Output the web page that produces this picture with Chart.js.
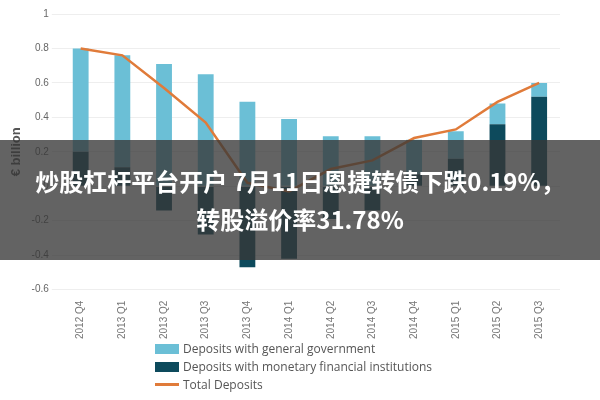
<!DOCTYPE html>
<html>
<head>
<meta charset="utf-8">
<script src="https://cdn.jsdelivr.net/npm/chart.js@4/dist/chart.umd.min.js"></script>
<style>
  body { margin: 0; background: #fff; font-family: "Open Sans", sans-serif; }
  #wrap { position: relative; width: 600px; height: 400px; }
  #box { position: absolute; left: 0; top: 0; width: 600px; height: 342px; }
  #legend { position: absolute; left: 155px; top: 340px; font-size: 12px; color: #555; line-height: 18px; }
  .sw { display: inline-block; width: 24px; height: 10px; margin-right: 4px; vertical-align: -1px; }
  .ln { display: inline-block; width: 24px; height: 3px; margin-right: 4px; vertical-align: 3px; background: #e07b3a; }
  #banner { position: absolute; left: 0; top: 140px; width: 600px; height: 120px; background: rgba(55,55,55,0.78);
    color: #fff; font-family: "Noto Sans CJK SC", sans-serif; font-weight: bold; font-size: 24px;
    text-align: center; line-height: 38px; padding-top: 22px; box-sizing: border-box; }
</style>
</head>
<body>
<div id="wrap">
  <div id="box"><canvas id="chart"></canvas></div>
  <div id="legend">
    <div><span class="sw" style="background:#6bbfd6"></span>Deposits with general government</div>
    <div><span class="sw" style="background:#0d4a5c"></span>Deposits with monetary financial institutions</div>
    <div><span class="ln"></span>Total Deposits</div>
  </div>
  <div id="banner">炒股杠杆平台开户 7月11日恩捷转债下跌0.19%，<br>转股溢价率31.78%</div>
</div>
<script>
const quarters = ['2012 Q4','2013 Q1','2013 Q2','2013 Q3','2013 Q4','2014 Q1','2014 Q2','2014 Q3','2014 Q4','2015 Q1','2015 Q2','2015 Q3'];
const govDeposits = [0.6, 0.65, 0.71, 0.65, 0.49, 0.39, 0.29, 0.29, 0.2, 0.16, 0.12, 0.08];
const mfiDeposits = [0.2, 0.11, -0.14, -0.28, -0.47, -0.42, -0.19, -0.14, 0.07, 0.16, 0.36, 0.52];
const totalDeposits = [0.8, 0.76, 0.57, 0.37, 0.02, -0.03, 0.1, 0.15, 0.28, 0.33, 0.49, 0.6];

new Chart(document.getElementById('chart'), {
    type: 'bar',
    data: {
        labels: quarters,
        datasets: [
            { type: 'line', label: 'Total Deposits', data: totalDeposits, borderColor: '#e07b3a', borderWidth: 2.5,
              pointRadius: 0, tension: 0, order: 0 },
            { label: 'Deposits with monetary financial institutions', data: mfiDeposits, backgroundColor: '#0d4a5c',
              stack: 's', order: 1, barPercentage: 0.38, categoryPercentage: 1 },
            { label: 'Deposits with general government', data: govDeposits, backgroundColor: '#6bbfd6',
              stack: 's', order: 1, barPercentage: 0.38, categoryPercentage: 1 }
        ]
    },
    options: {
        responsive: true,
        maintainAspectRatio: false,
        animation: false,
        layout: { padding: { top: 14, right: 40, left: 5 } },
        plugins: { legend: { display: false }, tooltip: { enabled: false } },
        scales: {
            x: {
                stacked: true,
                grid: { display: false },
                border: { display: false },
                ticks: { minRotation: 90, maxRotation: 90, color: '#777', font: { size: 10 } }
            },
            y: {
                stacked: true,
                min: -0.6, max: 1,
                grid: { color: '#eee' },
                border: { display: false },
                title: { display: true, text: '€ billion', color: '#555', font: { size: 13, weight: 'bold' } },
                ticks: { stepSize: 0.2, color: '#666', font: { size: 10 },
                    callback: v => Math.abs(v) < 1e-9 ? '0' : +v.toFixed(1) + '' }
            }
        }
    }
});
</script>
</body>
</html>
